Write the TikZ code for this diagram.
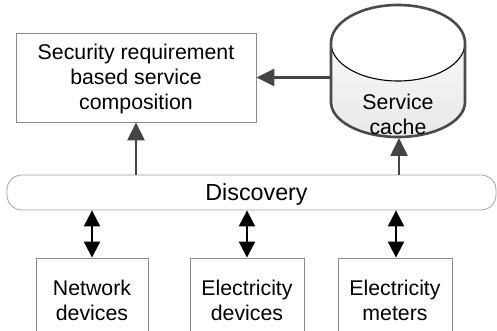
\documentclass[tikz,border=0pt]{standalone}
\usepackage{fontspec}
\setmainfont{Liberation Sans}
\usetikzlibrary{arrows.meta}
\definecolor{boxline}{HTML}{8A8A8A}
\definecolor{arrowgray}{HTML}{454545}
\definecolor{cylline}{HTML}{4A4A4A}
\tikzset{
  boxnode/.style={draw=boxline, line width=0.9pt, inner sep=0pt},
  txt/.style={align=center, font=\fontsize{21.3}{25}\selectfont, inner sep=0pt},
  grayarrow/.style={draw=arrowgray, line width=2.6pt, -{Triangle[length=18pt,width=17pt]}},
  dblarrow/.style={draw=black, line width=2.2pt, {Triangle[length=16pt,width=16pt]}-{Triangle[length=16pt,width=16pt]}},
}
\begin{document}
\begin{tikzpicture}[x=1pt,y=1pt]
\useasboundingbox (0,0) rectangle (497,331);
\fill[white] (0,0) rectangle (497,331);
% top box
\node[boxnode, minimum width=240pt, minimum height=89pt] (box) at (136,253.5) {};
\node[txt] (boxtext) at (136,252) {Security requirement\\based service\\composition};
% cylinder
\shade[top color=white, bottom color=gray!18]
  (331,288) -- (331,229) arc[start angle=180, end angle=360, x radius=67, y radius=35]
  -- (465,288) arc[start angle=0, end angle=180, x radius=67, y radius=38] -- cycle;
\fill[white] (398,288) ellipse[x radius=67, y radius=38];
\draw[black, line width=1.1pt] (331,288) arc[start angle=180, end angle=360, x radius=67, y radius=38];
\draw[cylline, line width=2.6pt]
  (331,288) -- (331,229) arc[start angle=180, end angle=360, x radius=67, y radius=35]
  -- (465,288) arc[start angle=0, end angle=180, x radius=67, y radius=38] -- cycle;
\node[txt] (cachetext) at (398,216.5) {Service\\cache};
\coordinate (cacheL) at (331,253.5);
\coordinate (cacheB) at (399,193);
% discovery
\node[draw=boxline!80, line width=0.8pt, rounded corners=15pt, minimum width=489pt, minimum height=35pt, inner sep=0pt] (disc) at (251.5,138.5) {};
\node[txt, font=\fontsize{23.3}{26}\selectfont] (disctext) at (256.5,137) {Discovery};
% bottom boxes
\node[boxnode, minimum width=112pt, minimum height=83pt] (nd) at (92,31.5) {};
\node[boxnode, minimum width=114pt, minimum height=83pt] (ed) at (247,31.5) {};
\node[boxnode, minimum width=114pt, minimum height=83pt] (em) at (395,31.5) {};
\node[txt] (ndtext) at (92,31) {Network\\devices};
\node[txt] (edtext) at (247,31) {Electricity\\devices};
\node[txt] (emtext) at (395,31) {Electricity\\meters};
% connectors
\draw[grayarrow] (cacheL) -- (box.east);
\draw[grayarrow] (box.south |- disc.north) -- (box.south);
\draw[grayarrow] (cacheB |- disc.north) -- (cacheB);
\draw[dblarrow] (nd.north |- disc.south) -- (nd.north);
\draw[dblarrow] (ed.north |- disc.south) -- (ed.north);
\draw[dblarrow] ([xshift=1pt]em.north |- disc.south) -- ([xshift=1pt]em.north);
\end{tikzpicture}
\end{document}
